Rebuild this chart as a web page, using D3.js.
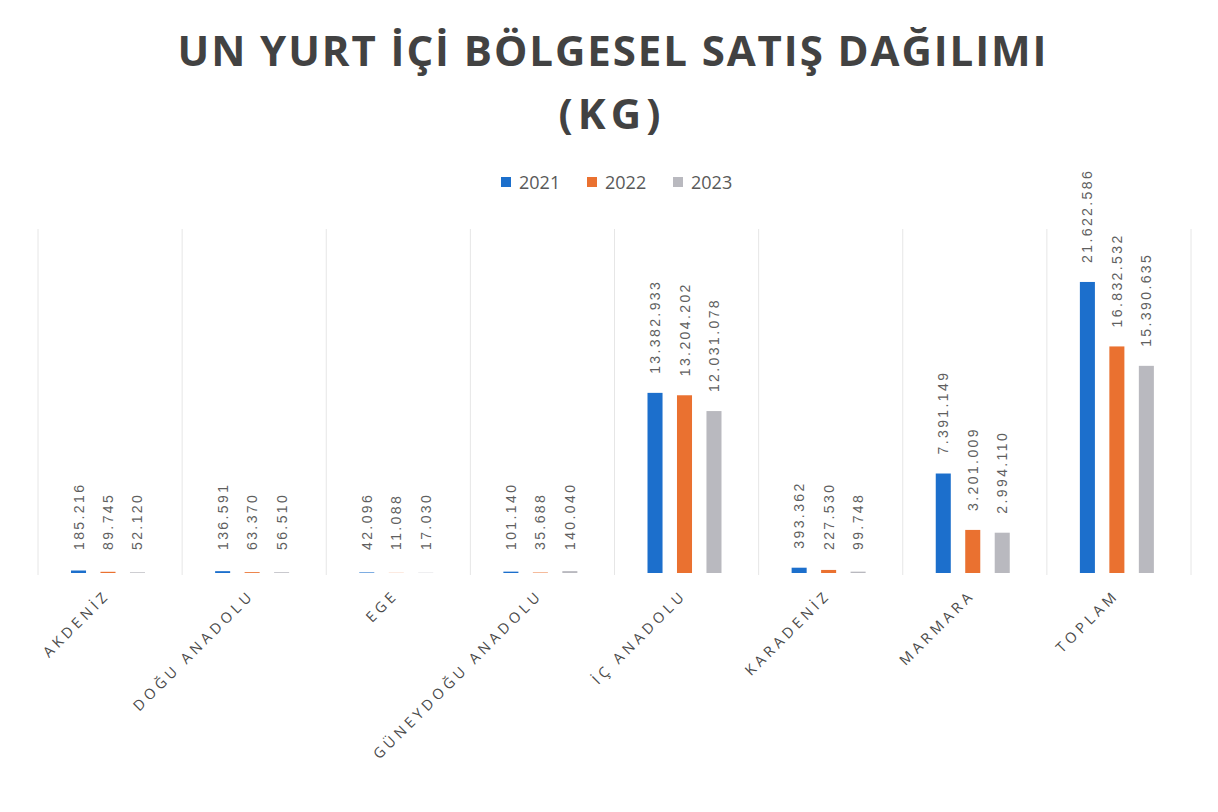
<!DOCTYPE html>
<html>
<head>
<meta charset="utf-8">
<script src="https://cdn.jsdelivr.net/npm/d3@7"></script>
<style>
  html, body { margin: 0; padding: 0; background: #ffffff; }
  svg { display: block; }
</style>
</head>
<body>
<svg id="chart" width="1218" height="812"></svg>
<script>
// ---- data ----
const titleLines = ["UN YURT İÇİ BÖLGESEL SATIŞ DAĞILIMI", "(KG)"];
const categories = ["AKDENİZ", "DOĞU ANADOLU", "EGE", "GÜNEYDOĞU ANADOLU", "İÇ ANADOLU", "KARADENİZ", "MARMARA", "TOPLAM"];
const years = ["2021", "2022", "2023"];
const values2021 = [185216, 136591, 42096, 101140, 13382933, 393362, 7391149, 21622586];
const values2022 = [89745, 63370, 11088, 35688, 13204202, 227530, 3201009, 16832532];
const values2023 = [52120, 56510, 17030, 140040, 12031078, 99748, 2994110, 15390635];
const yMax = 25000000;
const colors = ["#1C6FCC", "#EA7130", "#B9B9BF"];

const series = [values2021, values2022, values2023];
const rows = categories.map((c, i) => ({ cat: c, vals: years.map((yr, j) => ({ year: yr, j, v: series[j][i] })) }));

const svg = d3.select("#chart");
const plotLeft = 38, plotRight = 1191, plotBottom = 573, plotTop = 236.5;

const x0 = d3.scaleBand().domain(categories).range([plotLeft, plotRight]).padding(0);
const x1 = d3.scaleBand().domain(years).range([33, 107]).paddingInner(0.49).paddingOuter(0);
const y = d3.scaleLinear().domain([0, yMax]).range([plotBottom, plotTop]);
const color = d3.scaleOrdinal().domain(years).range(colors);

const loc = d3.formatLocale({ decimal: ",", thousands: ".", grouping: [3], currency: ["", "₺"] });
const fmt = loc.format(",d");

// title
svg.append("g").selectAll("text").data(titleLines).join("text")
  .attr("x", 612)
  .attr("y", (d, i) => 66 + i * 63)
  .attr("text-anchor", "middle")
  .attr("font-family", "'Open Sans', 'Noto Sans', sans-serif")
  .attr("font-weight", 700)
  .attr("font-size", 42)
  .attr("fill", "#424242")
  .each(function(d, i) {
    if (i === 0) d3.select(this).attr("textLength", 869).attr("lengthAdjust", "spacing");
    else d3.select(this).attr("letter-spacing", 5);
  })
  .text(d => d);

// legend
const legend = svg.append("g").attr("transform", "translate(501,0)");
const li = legend.selectAll("g").data(years).join("g")
  .attr("transform", (d, i) => `translate(${i * 86},0)`);
li.append("rect").attr("x", 0).attr("y", 177).attr("width", 10).attr("height", 10).attr("fill", d => color(d));
li.append("text").attr("x", 18).attr("y", 189)
  .attr("font-family", "'Open Sans', 'Noto Sans', sans-serif")
  .attr("font-size", 18).attr("fill", "#595959").text(d => d);

// vertical gridlines at category boundaries
const bounds = categories.map(c => x0(c)).concat([x0(categories[categories.length - 1]) + x0.bandwidth()]);
svg.append("g").selectAll("line").data(bounds).join("line")
  .attr("x1", d => d).attr("x2", d => d)
  .attr("y1", 229).attr("y2", plotBottom + 2)
  .attr("stroke", "#e6e6e6").attr("stroke-width", 1);

// bars
const groups = svg.append("g").selectAll("g").data(rows).join("g")
  .attr("transform", d => `translate(${x0(d.cat)},0)`);

groups.selectAll("rect").data(d => d.vals).join("rect")
  .attr("x", d => x1(d.year))
  .attr("width", x1.bandwidth())
  .attr("y", d => y(d.v))
  .attr("height", d => Math.max(0, plotBottom - y(d.v)))
  .attr("fill", d => color(d.year));

// value labels
groups.selectAll("text.val").data(d => d.vals).join("text")
  .attr("class", "val")
  .attr("transform", d => `translate(${x1(d.year) + x1.bandwidth() / 2 + 5},${Math.min(y(d.v), plotBottom - 4) - 19}) rotate(-90)`)
  .attr("text-anchor", "start")
  .attr("font-family", "'Liberation Sans', Arial, sans-serif")
  .attr("font-size", 14)
  .attr("letter-spacing", 2.4)
  .attr("fill", "#5f5f5f")
  .text(d => fmt(d.v));

// category labels
svg.append("g").selectAll("text").data(categories).join("text")
  .attr("transform", d => `translate(${x0(d) + x0.bandwidth() / 2 + 1},596) rotate(-45)`)
  .attr("text-anchor", "end")
  .attr("font-family", "'Open Sans', 'Noto Sans', sans-serif")
  .attr("font-size", 14.5)
  .attr("letter-spacing", 4)
  .attr("fill", "#4a4a4a")
  .text(d => d);
</script>
</body>
</html>
